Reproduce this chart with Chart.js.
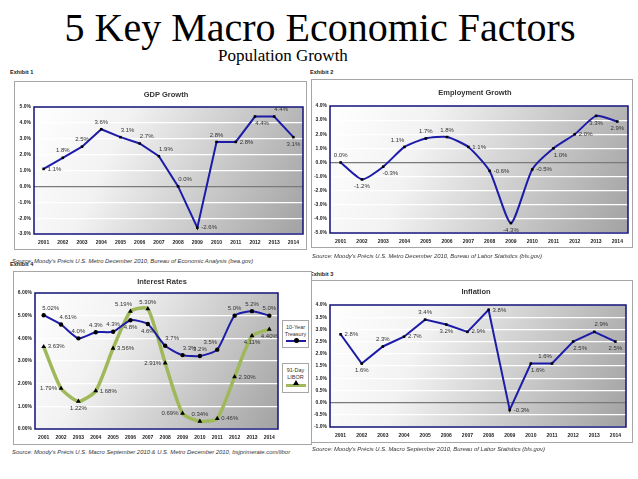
<!DOCTYPE html>
<html>
<head>
<meta charset="utf-8">
<script src="https://cdn.jsdelivr.net/npm/chart.js@4.4.1/dist/chart.umd.min.js"></script>
<style>
body { margin: 0; width: 638px; height: 479px; background: #fff; position: relative; overflow: hidden; font-family: "Liberation Sans", Arial, sans-serif; }
.abs { position: absolute; white-space: nowrap; }
.box { position: absolute; border: 1px solid #a6a6a6; box-sizing: border-box; background: #fff; }
.cv { position: absolute; }
#title { left: 0; width: 640px; top: 4px; text-align: center; font-family: "Liberation Serif", "Times New Roman", serif; font-size: 40px; color: #000; }
#sub { left: 218px; top: 46px; font-family: "Liberation Serif", "Times New Roman", serif; font-size: 17px; color: #000; }
.exh { font-size: 5.6px; font-weight: bold; color: #222; }
.ctitle { font-size: 7.5px; font-weight: bold; color: #333; transform: translateX(-50%); }
.src { font-size: 5.9px; font-style: italic; color: #333; }
.leg { position: absolute; border: 1px solid #a6a6a6; box-sizing: border-box; background: #fff; font-size: 5.5px; color: #333; text-align: center; line-height: 7px; }
</style>
</head>
<body>
<div id="title" class="abs">5 Key Macro Economic Factors</div>
<div id="sub" class="abs">Population Growth</div>

<div class="abs exh" style="left:10px;top:69px">Exhibit 1</div>
<div class="abs exh" style="left:310px;top:69px">Exhibit 2</div>
<div class="abs exh" style="left:10px;top:261px">Exhibit 4</div>
<div class="abs exh" style="left:310px;top:271px">Exhibit 3</div>

<div class="box" style="left:14px;top:81px;width:293px;height:169px"></div>
<div class="box" style="left:311px;top:79px;width:322px;height:169px"></div>
<div class="box" style="left:13px;top:271px;width:299px;height:174px"></div>
<div class="box" style="left:311px;top:280px;width:322px;height:163px"></div>

<canvas id="gdpChart" class="cv" style="left:14px;top:81px" width="293" height="169"></canvas>
<canvas id="empChart" class="cv" style="left:311px;top:79px" width="322" height="169"></canvas>
<canvas id="rateChart" class="cv" style="left:13px;top:271px" width="299" height="174"></canvas>
<canvas id="infChart" class="cv" style="left:311px;top:280px" width="322" height="163"></canvas>

<div class="abs ctitle" style="left:166px;top:90px">GDP Growth</div>
<div class="abs ctitle" style="left:475px;top:88px">Employment Growth</div>
<div class="abs ctitle" style="left:162px;top:277px">Interest Rates</div>
<div class="abs ctitle" style="left:476px;top:287px">Inflation</div>

<div class="abs src" style="left:12px;top:258px">Source: Moody's Précis U.S. Metro December 2010, Bureau of Economic Analysis (bea.gov)</div>
<div class="abs src" style="left:312px;top:253px">Source: Moody's Précis U.S. Metro December 2010, Bureau of Labor Statistics (bls.gov)</div>
<div class="abs src" style="left:12px;top:449px">Source: Moody's Précis U.S. Macro September 2010 &amp; U.S. Metro December 2010, bsjprimerate.com/libor</div>
<div class="abs src" style="left:312px;top:446px">Source: Moody's Précis U.S. Macro September 2010, Bureau of Labor Statistics (bls.gov)</div>

<div class="leg" style="left:282px;top:320px;width:27px;height:28px">
  <div style="margin-top:3px">10-Year<br>Treasury</div>
  <div style="position:absolute;left:3px;top:19px;width:20px;height:2px;background:#1c1ca8"></div>
  <div style="position:absolute;left:11px;top:17px;width:5px;height:5px;border-radius:50%;background:#000"></div>
</div>
<div class="leg" style="left:282px;top:363px;width:27px;height:30px">
  <div style="margin-top:3px">91-Day<br>LIBOR</div>
  <div style="position:absolute;left:3px;top:20px;width:20px;height:3px;background:#9fb85a"></div>
  <div style="position:absolute;left:10px;top:16px;width:0;height:0;border-left:3px solid transparent;border-right:3px solid transparent;border-bottom:5px solid #000"></div>
</div>

<script>
const years = ['2001', '2002', '2003', '2004', '2005', '2006', '2007', '2008', '2009', '2010', '2011', '2012', '2013', '2014'];

const gdpGrowth = [1.1, 1.8, 2.5, 3.6, 3.1, 2.7, 1.9, 0.0, -2.6, 2.8, 2.8, 4.4, 4.4, 3.1];
const employmentGrowth = [0.0, -1.2, -0.3, 1.1, 1.7, 1.8, 1.1, -0.6, -4.3, -0.5, 1.0, 2.0, 3.3, 2.9];
const treasury10yr = [5.02, 4.61, 4.0, 4.27, 4.29, 4.8, 4.63, 3.67, 3.26, 3.22, 3.5, 5.0, 5.2, 5.0];
const treasuryLabels = ['5.02%', '4.61%', '4.0%', '4.3%', '4.3%', '4.8%', '4.6%', '3.7%', '3.3%', '3.2%', '3.5%', '5.0%', '5.2%', '5.0%'];
const libor91day = [3.63, 1.79, 1.22, 1.68, 3.56, 5.19, 5.30, 2.91, 0.69, 0.34, 0.46, 2.30, 4.11, 4.40];
const inflation = [2.8, 1.6, 2.3, 2.7, 3.4, 3.2, 2.9, 3.8, -0.3, 1.6, 1.6, 2.5, 2.9, 2.5];

// where each value label sits around its point
const gdpLabelPos = ['r', 't', 't', 't', 'tr', 'tr', 'tr', 'tr', 'r', 't', 'r', 'br', 'tr', 'b'];
const empLabelPos = ['t', 'b', 'br', 'tl', 't', 't', 'r', 'r', 'b', 'r', 'br', 'r', 'b', 'b'];
const treasuryLabelPos = ['tr', 'tr', 't', 't', 't', 'b', 'b', 'tr', 'tr', 't', 'tl', 't', 't', 't'];
const liborLabelPos = ['r', 'l', 'b', 'r', 'r', 'tl', 't', 'l', 'l', 't', 'r', 'r', 'b', 'b'];
const infLabelPos = ['r', 'b', 't', 'r', 't', 'b', 'r', 'r', 'r', 'br', 'tl', 'br', 'tr', 'b'];

const pct1 = v => v.toFixed(1) + '%';
const labelFont = '6px "Liberation Sans Narrow", "Liberation Sans", Arial, sans-serif';

const plotFrame = {
    id: 'plotFrame',
    beforeDraw(chart) {
        const ctx = chart.ctx;
        const a = chart.chartArea;
        const g = ctx.createLinearGradient(a.left, a.top, a.right, a.bottom);
        g.addColorStop(0, '#ffffff');
        g.addColorStop(0.3, '#f2f2f2');
        g.addColorStop(1, '#a2a2a2');
        ctx.save();
        ctx.fillStyle = g;
        ctx.fillRect(a.left, a.top, a.right - a.left, a.bottom - a.top);
        ctx.restore();
    },
    beforeDatasetsDraw(chart) {
        const ctx = chart.ctx;
        const a = chart.chartArea;
        ctx.save();
        ctx.strokeStyle = '#10107a';
        ctx.lineWidth = 1.5;
        ctx.strokeRect(a.left, a.top, a.right - a.left, a.bottom - a.top);
        ctx.restore();
    }
};

const pointLabels = {
    id: 'pointLabels',
    afterDatasetsDraw(chart) {
        const ctx = chart.ctx;
        ctx.save();
        ctx.font = labelFont;
        ctx.fillStyle = '#333';
        ctx.textBaseline = 'middle';
        chart.data.datasets.forEach((ds, i) => {
            if (!ds.labelText) return;
            chart.getDatasetMeta(i).data.forEach((pt, j) => {
                const p = ds.labelPos[j];
                let dx = 0, dy = 0, align = 'center';
                if (p.includes('t')) dy = -7;
                if (p.includes('b')) dy = 7;
                if (p === 'r') { dx = 4; align = 'left'; }
                if (p === 'l') { dx = -4; align = 'right'; }
                if (p === 'tr' || p === 'br') dx = 7;
                if (p === 'tl' || p === 'bl') dx = -7;
                ctx.textAlign = align;
                ctx.fillText(ds.labelText[j], pt.x + dx, pt.y + dy);
            });
        });
        ctx.restore();
    }
};

function makeChart(id, datasets, yMin, yMax, yStep, yFmt, layout) {
    return new Chart(document.getElementById(id), {
        type: 'line',
        data: { labels: years, datasets: datasets },
        plugins: [plotFrame, pointLabels],
        options: {
            responsive: false,
            animation: false,
            layout: { padding: { left: 0, top: layout.top, right: layout.right, bottom: 0 } },
            plugins: { legend: { display: false }, tooltip: { enabled: false } },
            scales: {
                x: {
                    offset: true,
                    grid: { display: false, drawTicks: false },
                    border: { display: false },
                    ticks: { color: '#222', font: { size: 5, weight: 'bold' }, padding: 6, maxRotation: 0, autoSkip: false },
                    afterFit: s => { s.height = layout.xh; }
                },
                y: {
                    min: yMin, max: yMax,
                    border: { display: false },
                    grid: {
                        drawTicks: false,
                        lineWidth: 1.2,
                        color: c => (c.tick && c.tick.value === 0 && yMin < 0) ? '#7a7a7a' : '#ffffff'
                    },
                    ticks: { stepSize: yStep, color: '#222', font: { size: 5, weight: 'bold' }, padding: 3, callback: yFmt },
                    afterFit: s => { s.width = layout.yw; }
                }
            }
        }
    });
}

function blueLine(data, texts, pos, tension) {
    return {
        data: data, labelText: texts, labelPos: pos,
        borderColor: '#1c1ca8', borderWidth: 2, tension: tension,
        pointStyle: 'rect', pointRadius: 1.8, pointBackgroundColor: '#000', pointBorderColor: '#000', pointBorderWidth: 0
    };
}

makeChart('gdpChart', [blueLine(gdpGrowth, gdpGrowth.map(pct1), gdpLabelPos, 0)],
    -3, 5, 1, v => v.toFixed(1) + '%', { top: 26, right: 2, yw: 20, xh: 16 });

makeChart('empChart', [blueLine(employmentGrowth, employmentGrowth.map(pct1), empLabelPos, 0.2)],
    -5, 4, 1, v => v.toFixed(1) + '%', { top: 27, right: 5, yw: 19, xh: 15 });

makeChart('rateChart', [
    {
        data: treasury10yr, labelText: treasuryLabels, labelPos: treasuryLabelPos,
        borderColor: '#1c1ca8', borderWidth: 2, tension: 0.2,
        pointStyle: 'circle', pointRadius: 2.2, pointBackgroundColor: '#000', pointBorderColor: '#000', pointBorderWidth: 0
    },
    {
        data: libor91day, labelText: libor91day.map(v => v.toFixed(2) + '%'), labelPos: liborLabelPos,
        borderColor: '#9fb85a', borderWidth: 3.5, tension: 0.2,
        pointStyle: 'triangle', pointRadius: 2.8, pointBackgroundColor: '#000', pointBorderColor: '#000', pointBorderWidth: 0
    }
], 0, 6, 1, v => v.toFixed(2) + '%', { top: 22, right: 34, yw: 22, xh: 16 });

makeChart('infChart', [blueLine(inflation, inflation.map(pct1), infLabelPos, 0)],
    -1, 4, 0.5, v => v.toFixed(1) + '%', { top: 25, right: 7, yw: 19, xh: 16 });
</script>
</body>
</html>
